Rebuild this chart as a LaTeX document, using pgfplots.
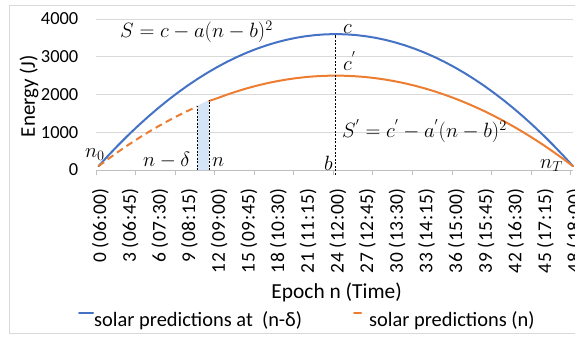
\documentclass[border=0pt]{standalone}
\usepackage[no-math]{fontspec}
\setmainfont{Carlito}
\usepackage{pgfplots}
\pgfplotsset{compat=1.18}
\usepackage{pgfplotstable}
\definecolor{xlblue}{HTML}{4472C4}
\definecolor{xlorange}{HTML}{ED7D31}
\definecolor{shade}{RGB}{214,228,248}
\definecolor{gridgray}{RGB}{217,217,217}
\definecolor{axgray}{RGB}{191,191,191}

% solar predictions at (n - delta)
\pgfplotstableread{
x y
0 100
1 386
2 659
3 920
4 1169
5 1406
6 1631
7 1844
8 2044
9 2233
10 2409
11 2573
12 2725
13 2865
14 2992
15 3108
16 3211
17 3302
18 3381
19 3448
20 3503
21 3545
22 3576
23 3594
24 3600
25 3594
26 3576
27 3545
28 3503
29 3448
30 3381
31 3302
32 3211
33 3108
34 2992
35 2865
36 2725
37 2573
38 2409
39 2233
40 2044
41 1844
42 1631
43 1406
44 1169
45 920
46 659
47 386
48 100
}\blueTab

% solar predictions (n), dashed part before n - delta
\pgfplotstableread{
x y
0 100
1 296
2 483
3 663
4 833
5 996
6 1150
7 1296
8 1433
9 1563
10 1683
}\orangeA

% solar predictions (n), from n on
\pgfplotstableread{
x y
11.2 1830
12 1900
13 1996
14 2083
15 2163
16 2233
17 2296
18 2350
19 2396
20 2433
21 2463
22 2483
23 2496
24 2500
25 2496
26 2483
27 2463
28 2433
29 2396
30 2350
31 2296
32 2233
33 2163
34 2083
35 1996
36 1900
37 1796
38 1683
39 1563
40 1433
41 1296
42 1150
43 996
44 833
45 663
46 483
47 296
48 100
}\orangeB

\begin{document}
\begin{tikzpicture}[x=1bp,y=1bp]
\useasboundingbox (0,0) rectangle (575,337);
\draw[gridgray, line width=0.75bp] (9,4) rectangle (600,332);
\begin{axis}[
  at={(95.5bp,167bp)}, anchor=south west,
  scale only axis, width=477.5bp, height=151bp,
  xmin=-0.3, xmax=48, ymin=0, ymax=4000,
  clip=false,
  axis lines*=left,
  axis line style={-},
  y axis line style={draw=none},
  x axis line style={draw=axgray, line width=0.75bp},
  ytick={0,1000,2000,3000,4000},
  yticklabels={0,1000,2000,3000,4000},
  ytick style={draw=none},
  ymajorgrids,
  grid style={gridgray, line width=0.75bp},
  yticklabel style={anchor=east, inner sep=0pt, font=\fontsize{18.5}{20}\selectfont},
  yticklabel shift=17bp,
  xtick={0,3,...,48},
  xticklabels={0 (06:00),3 (06:45),6 (07:30),9 (08:15),12 (09:00),15 (09:45),18 (10:30),21 (11:15),24 (12:00),27 (12:45),30 (13:30),33 (14:15),36 (15:00),39 (15:45),42 (16:30),45 (17:15),48 (18:00)},
  xtick style={draw=none},
  xticklabel style={xshift=2bp, rotate=90, anchor=east, inner sep=0pt,
     font=\fontsize{19.5}{22}\selectfont\addfontfeatures{LetterSpace=3}},
  xticklabel shift=18bp,
  extra x ticks={-0.25,3.75,...,47.75},
  extra x tick labels={},
  extra x tick style={grid=none, tick align=outside, major tick length=5bp,
     xtick style={draw=axgray, line width=0.75bp}},
  xlabel={Epoch n (Time)},
  xlabel style={at={(axis description cs:0.505,-0.81)}, anchor=center, inner sep=0pt, font=\fontsize{21.5}{24}\selectfont},
  ylabel={Energy (J)},
  ylabel style={at={(axis description cs:-0.139,0.49)}, anchor=center, inner sep=0pt, font=\fontsize{21}{24}\selectfont},
  legend columns=2,
  legend style={at={(axis description cs:-0.0366,-0.9934)}, anchor=west,
     draw=none, fill=none, inner sep=0pt, nodes={inner sep=0pt},
     font=\fontsize{20.5}{22}\selectfont,
     /tikz/every even column/.append style={column sep=29bp}},
  legend cell align=left,
]
% shaded interval between n - delta and n
\addplot[fill=shade, draw=none, forget plot] coordinates {(10,0) (10,1700) (11.2,1860) (11.2,0)};
% curves
\addplot[xlblue, line width=2bp, line cap=round,
  legend image code/.code={\draw[xlblue, line width=2bp] (0bp,7bp) -- (14bp,7bp); \path (12bp,7bp);}]
  table[x=x,y=y] {\blueTab};
\addlegendentry{solar predictions at~~(n-δ)}
\addplot[xlorange, line width=2bp, dash pattern=on 7bp off 4.5bp, forget plot] table[x=x,y=y] {\orangeA};
\addplot[xlorange, line width=2bp, line cap=round,
  legend image code/.code={\path (-22bp,7bp); \draw[xlorange, line width=2bp] (0bp,7bp) -- (7bp,7bp); \path (14bp,7bp);}]
  table[x=x,y=y] {\orangeB};
\addlegendentry{solar predictions (n)}
% dashed markers
\addplot[black, line width=0.8bp, dash pattern=on 2bp off 1.5bp, forget plot] coordinates {(10,0) (10,1700)};
\addplot[black, line width=0.8bp, dash pattern=on 2bp off 1.5bp, forget plot] coordinates {(11.2,0) (11.2,1860)};
\addplot[black, line width=0.8bp, dash pattern=on 2bp off 1.5bp, forget plot] coordinates {(24,-130) (24,3580)};
% annotations
\begin{scope}[every node/.style={inner sep=0pt, font=\fontsize{21}{24}\selectfont}]
\node[anchor=base west] at (axis cs:2.17,3497) {$S=c-a(n-b)^2$};
\node[anchor=base west] at (axis cs:24.73,3629) {$c$};
\node[anchor=base west] at (axis cs:24.73,2649) {$c^{'}$};
\node[anchor=base west] at (axis cs:24.63,848) {$S^{'}=c^{'}-a^{'}(n-b)^2$};
\node[anchor=base west] at (axis cs:-1.37,344) {$n_0$};
\node[anchor=base west] at (axis cs:4.5,106) {$n-\delta$};
\node[anchor=base west] at (axis cs:11.48,106) {$n$};
\node[anchor=base east] at (axis cs:23.72,0) {$b$};
\node[anchor=base west] at (axis cs:44.66,53) {$n_T$};
\end{scope}
\end{axis}
\end{tikzpicture}
\end{document}
